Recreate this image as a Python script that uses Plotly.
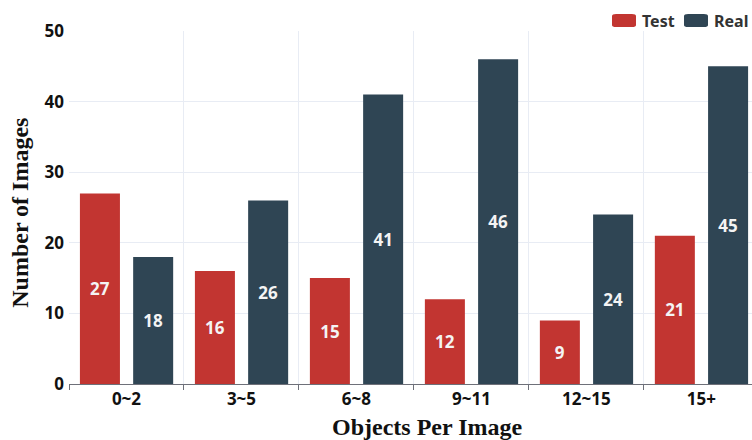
import plotly.graph_objects as go

categories = ["0~2", "3~5", "6~8", "9~11", "12~15", "15+"]
test_counts = [27, 16, 15, 12, 9, 21]
real_counts = [18, 26, 41, 46, 24, 45]
y_ticks = [0, 10, 20, 30, 40, 50]

RED = "#c23531"
NAVY = "#2f4554"
GRID = "#e8ecf4"
SANS = "Noto Sans, Open Sans, sans-serif"

fig = go.Figure()
for name, vals, color, off in [("Test", test_counts, RED, -0.405),
                               ("Real", real_counts, NAVY, 0.058)]:
    fig.add_trace(go.Bar(
        x=categories, y=vals, name=name,
        marker=dict(color=color, line=dict(width=0)),
        width=0.348, offset=off,
        text=[str(v) for v in vals], textposition="inside",
        insidetextanchor="middle", textangle=0,
        textfont=dict(family=SANS, size=17, color="#f4f4f4", weight="bold"),
        showlegend=False,
    ))

fig.update_layout(
    width=752, height=440,
    margin=dict(l=69, r=0, t=31, b=56),
    paper_bgcolor="white", plot_bgcolor="white",
    barmode="group",
    xaxis=dict(
        range=[-0.5, 5.44], tickson="boundaries",
        showgrid=True, gridcolor=GRID, gridwidth=1,
        showline=True, linecolor="#6e7079", linewidth=1,
        ticks="outside", ticklen=5, tickcolor="#6e7079",
        tickfont=dict(family=SANS, size=17, color="#111111", weight="bold"),
    ),
    yaxis=dict(
        range=[0, 50], tickvals=y_ticks,
        showgrid=True, gridcolor=GRID, gridwidth=1,
        zeroline=False, showline=False, ticks="",
        tickfont=dict(family=SANS, size=17, color="#111111", weight="bold"),
        ticklabelstandoff=4,
    ),
)

serif = dict(family="Liberation Serif, Times New Roman, serif", size=24, color="#111111", weight="bold")
fig.add_annotation(text="Number of Images", xref="paper", yref="paper",
                   x=-49/683, y=0.485, textangle=-90, showarrow=False,
                   font=serif, xanchor="center", yanchor="middle")
fig.add_annotation(text="Objects Per Image", xref="paper", yref="paper",
                   x=(427-69)/683, y=-(427-384)/353, showarrow=False,
                   font=serif, xanchor="center", yanchor="middle")

# legend drawn as rounded swatches with labels
def rounded_rect(x0, y0, x1, y1, r):
    return (f"M {x0+r},{y0} L {x1-r},{y0} Q {x1},{y0} {x1},{y0+r} "
            f"L {x1},{y1-r} Q {x1},{y1} {x1-r},{y1} L {x0+r},{y1} "
            f"Q {x0},{y1} {x0},{y1-r} L {x0},{y0+r} Q {x0},{y0} {x0+r},{y0} Z")

def px_x(px):
    return (px - 69) / 683

def px_y(py):
    return (384 - py) / 353

for label, color, sx0, tx in [("Test", RED, 612, 640), ("Real", NAVY, 684, 712)]:
    fig.add_shape(type="path", xref="paper", yref="paper",
                  path=rounded_rect(px_x(sx0), px_y(27), px_x(sx0 + 24), px_y(14), 0.006),
                  fillcolor=color, line=dict(width=0))
    fig.add_annotation(text=label, xref="paper", yref="paper", x=px_x(tx), y=px_y(20.5),
                       xanchor="left", yanchor="middle", showarrow=False,
                       font=dict(family=SANS, size=16, color="#333333", weight="bold"))

fig.write_html("out.html")
